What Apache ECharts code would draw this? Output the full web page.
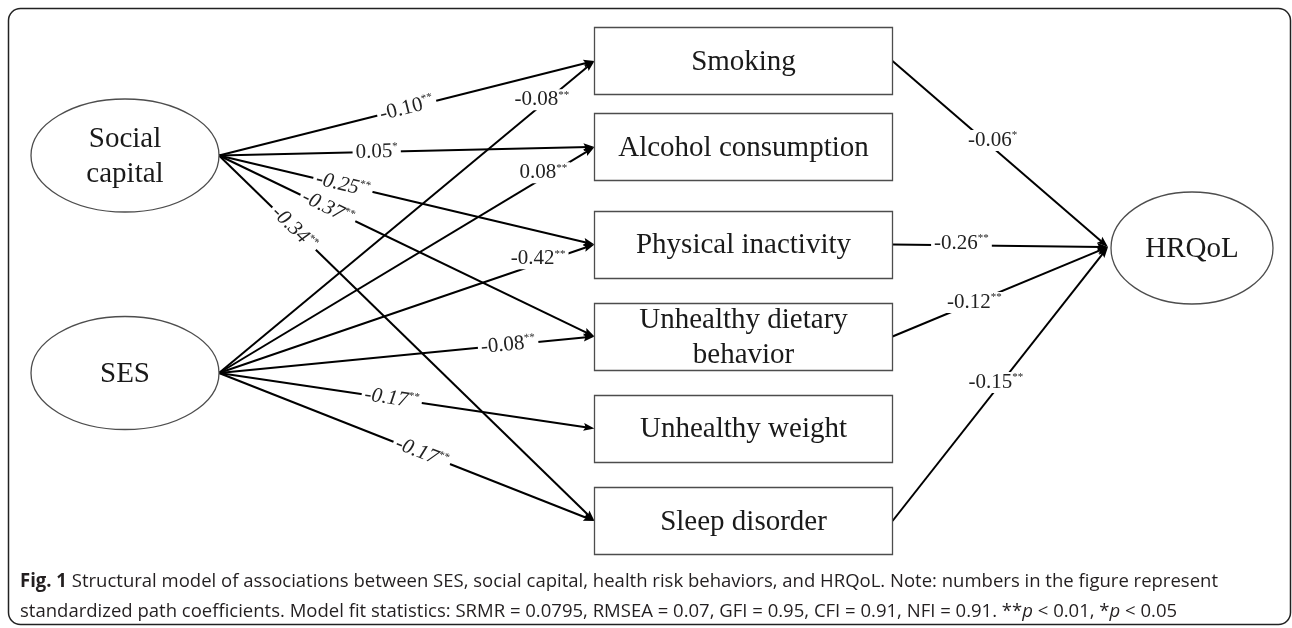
<!DOCTYPE html>
<html>
<head>
<meta charset="utf-8">
<script src="https://cdn.jsdelivr.net/npm/echarts@6/dist/echarts.min.js"></script>
<style>
  html, body { margin: 0; padding: 0; background: #fff; }
  #main { width: 1292px; height: 628px; }
</style>
</head>
<body>
<div id="main"></div>
<script>
// path coefficients (index = behaviour)
var exposures = ['Social\ncapital', 'SES'];
var behaviors = ['Smoking', 'Alcohol consumption', 'Physical inactivity',
  'Unhealthy dietary\nbehavior', 'Unhealthy weight', 'Sleep disorder'];
var outcome = 'HRQoL';
var scCoef = [-0.10, 0.05, -0.25, -0.37, null, -0.34];
var scSig = ['**', '*', '**', '**', '', '**'];
var sesCoef = [-0.08, 0.08, -0.42, -0.08, -0.17, -0.17];
var sesSig = ['**', '**', '**', '**', '**', '**'];
var hrCoef = [-0.06, null, -0.26, -0.12, null, -0.15];
var hrSig = ['*', '', '**', '**', '', '**'];

// layout, in pixels of the 1292x628 page
var exposureX = 125, exposureY = [155.5, 373], ellipseSize = [188, 113];
var boxX = 743.5, boxY = [61, 147, 244.5, 336.5, 428.5, 521], boxSize = [298, 67];
var outcomeX = 1192, outcomeY = 248, outcomeSize = [162, 112];
var arrow = 11;
// where each coefficient sits along its path (0 = tail, 1 = head), tilt / italic / lift
var scT = [0.5, 0.42, 0.33, 0.29, null, 0.2];
var sesT = [0.86, 0.864, 0.85, 0.77, 0.46, 0.54];
var sesTilt = [false, false, false, true, true, true];
var sesLift = [-5, -5, -5, 0, 0, 0];
var scItalic = [false, false, true, true, false, true];
var sesItalic = [false, false, false, false, true, true];
var hrT = [0.465, null, 0.32, 0.38, null, 0.48];
var hrLift = [-7, 0, -2, 0, 0, -7];

var serif = 'Liberation Serif';
var ink = '#1a1a1a';
var arrowPath = 'path://M-5.5,0M5.5,0M0,0L4,11L0,9L-4,11Z';

// boxes and ellipses go to a custom series (uniform outline width)
var shapes = [];
exposures.forEach(function (name, i) {
  shapes.push({ text: name, x: exposureX, y: exposureY[i], size: ellipseSize, kind: 'ellipse' });
});
behaviors.forEach(function (name, j) {
  shapes.push({ text: name, x: boxX, y: boxY[j], size: boxSize, kind: 'rect' });
});
shapes.push({ text: outcome, x: outcomeX, y: outcomeY, size: outcomeSize, kind: 'ellipse' });

function renderShape(params, api) {
  var s = shapes[params.dataIndex];
  var c = api.coord([s.x, s.y]);
  var w = s.size[0], h = s.size[1];
  var outline = s.kind === 'rect'
    ? { type: 'rect', shape: { x: Math.floor(c[0] - w / 2) + 0.5, y: Math.floor(c[1] - h / 2) + 0.5, width: w, height: h } }
    : { type: 'ellipse', shape: { cx: c[0], cy: c[1], rx: w / 2, ry: h / 2 } };
  outline.style = { fill: '#fff', stroke: '#4d4d4d', lineWidth: 1.3 };
  return {
    type: 'group',
    children: [outline, {
      type: 'text', x: c[0], y: c[1] + 1,
      style: {
        text: s.text, align: 'center', verticalAlign: 'middle',
        fontFamily: serif, fontSize: 29, lineHeight: 35, fill: ink
      }
    }]
  };
}

var nodes = [];
var links = [];
var seq = 0;

function addPoint(id, p, label) {
  nodes.push({
    name: id, value: p, symbol: 'circle', symbolSize: 0,
    itemStyle: { color: 'rgba(0,0,0,0)' },
    label: label || { show: false }
  });
}

function coefText(v, sig) {
  return '{n|' + v.toFixed(2) + '}' + (sig ? '{s|' + sig + '}' : '');
}

function addPath(tail, edge, v, sig, t, tilt, italic, lift) {
  var dx = edge[0] - tail[0], dy = edge[1] - tail[1];
  var len = Math.sqrt(dx * dx + dy * dy);
  // symbol is centred on the end point, so pull it back to put the tip on the outline
  var head = [edge[0] - dx / len * arrow / 2, edge[1] - dy / len * arrow / 2];
  var id = 'p' + (seq++);
  addPoint(id + 't', tail);
  addPoint(id + 'h', head);
  links.push({ source: id + 't', target: id + 'h' });
  var ang = tilt ? -Math.atan2(dy, dx) * 180 / Math.PI : 0;
  addPoint(id + 'l', [tail[0] + dx * t, tail[1] + dy * t + lift], {
    show: true, position: 'inside', rotate: ang,
    formatter: coefText(v, sig),
    backgroundColor: '#fff', padding: [0, 3],
    rich: {
      n: { fontFamily: serif, fontSize: 21, color: '#222', fontStyle: italic ? 'italic' : 'normal' },
      s: { fontFamily: serif, fontSize: 11, lineHeight: 11, color: '#222', verticalAlign: 'top' }
    }
  });
}

var expTail = exposureY.map(function (y) { return [exposureX + ellipseSize[0] / 2, y]; });
var boxLeft = boxX - boxSize[0] / 2, boxRight = boxX + boxSize[0] / 2;
var outLeft = [outcomeX - outcomeSize[0] / 2 - 3, outcomeY - 1];

behaviors.forEach(function (name, j) {
  if (scCoef[j] !== null) {
    addPath(expTail[0], [boxLeft, boxY[j]], scCoef[j], scSig[j], scT[j], true, scItalic[j], 0);
  }
  if (sesCoef[j] !== null) {
    addPath(expTail[1], [boxLeft, boxY[j]], sesCoef[j], sesSig[j], sesT[j], sesTilt[j], sesItalic[j], sesLift[j]);
  }
  if (hrCoef[j] !== null) {
    addPath([boxRight, boxY[j]], outLeft, hrCoef[j], hrSig[j], hrT[j], false, false, hrLift[j]);
  }
});

// caption
var capFont = 'Open Sans';
var capSize = 19;
var cap1a = 'Fig. 1';
var cap1b = ' Structural model of associations between SES, social capital, health risk behaviors, and HRQoL. Note: numbers in the figure represent';
var cap2 = 'standardized path coefficients. Model fit statistics: SRMR = 0.0795, RMSEA = 0.07, GFI = 0.95, CFI = 0.91, NFI = 0.91. **{i|p} < 0.01, *{i|p} < 0.05';
var ctx = document.createElement('canvas').getContext('2d');
ctx.font = 'bold ' + capSize + 'px "' + capFont + '"';
var w1 = ctx.measureText(cap1a).width;
ctx.font = capSize + 'px "' + capFont + '"';
w1 += ctx.measureText(cap1b).width;
var capScale = (1218 - 20) / w1;

var capRich = {
  b: { fontFamily: capFont, fontSize: capSize, fontWeight: 'bold', fill: '#231f20' },
  r: { fontFamily: capFont, fontSize: capSize, fill: '#231f20' },
  i: { fontFamily: capFont, fontSize: capSize, fontStyle: 'italic', fill: '#231f20' }
};

var chart = echarts.init(document.getElementById('main'));
chart.setOption({
  animation: false,
  backgroundColor: '#fff',
  grid: { left: 0, right: 0, top: 0, bottom: 0 },
  xAxis: { type: 'value', min: 0, max: 1292, show: false },
  yAxis: { type: 'value', min: 0, max: 628, inverse: true, show: false },
  graphic: [
    {
      type: 'rect', silent: true,
      shape: { x: 8.5, y: 8.5, width: 1282, height: 616, r: 12 },
      style: { fill: 'none', stroke: '#222', lineWidth: 1.5 }
    },
    {
      type: 'text', silent: true, x: 20, y: 582, scaleX: capScale,
      style: {
        text: '{b|' + cap1a + '}{r|' + cap1b + '}', rich: capRich,
        fontFamily: capFont, fontSize: capSize, fill: '#231f20', verticalAlign: 'middle'
      }
    },
    {
      type: 'text', silent: true, x: 20, y: 612, scaleX: capScale,
      style: {
        text: '{r|' + cap2.replace(/\{i\|p\}/g, '}{i|p}{r|') + '}', rich: capRich,
        fontFamily: capFont, fontSize: capSize, fill: '#231f20', verticalAlign: 'middle'
      }
    }
  ],
  series: [
    {
      type: 'graph',
      layout: 'none',
      coordinateSystem: 'cartesian2d',
      silent: true,
      edgeSymbol: ['none', arrowPath],
      edgeSymbolSize: [0, arrow],
      lineStyle: { color: '#000', width: 2, opacity: 1, curveness: 0 },
      emphasis: { disabled: true },
      data: nodes,
      links: links
    },
    {
      type: 'custom',
      coordinateSystem: 'cartesian2d',
      silent: true,
      data: shapes.map(function (s) { return [s.x, s.y]; }),
      encode: { x: 0, y: 1 },
      renderItem: renderShape
    }
  ]
});
</script>
</body>
</html>
